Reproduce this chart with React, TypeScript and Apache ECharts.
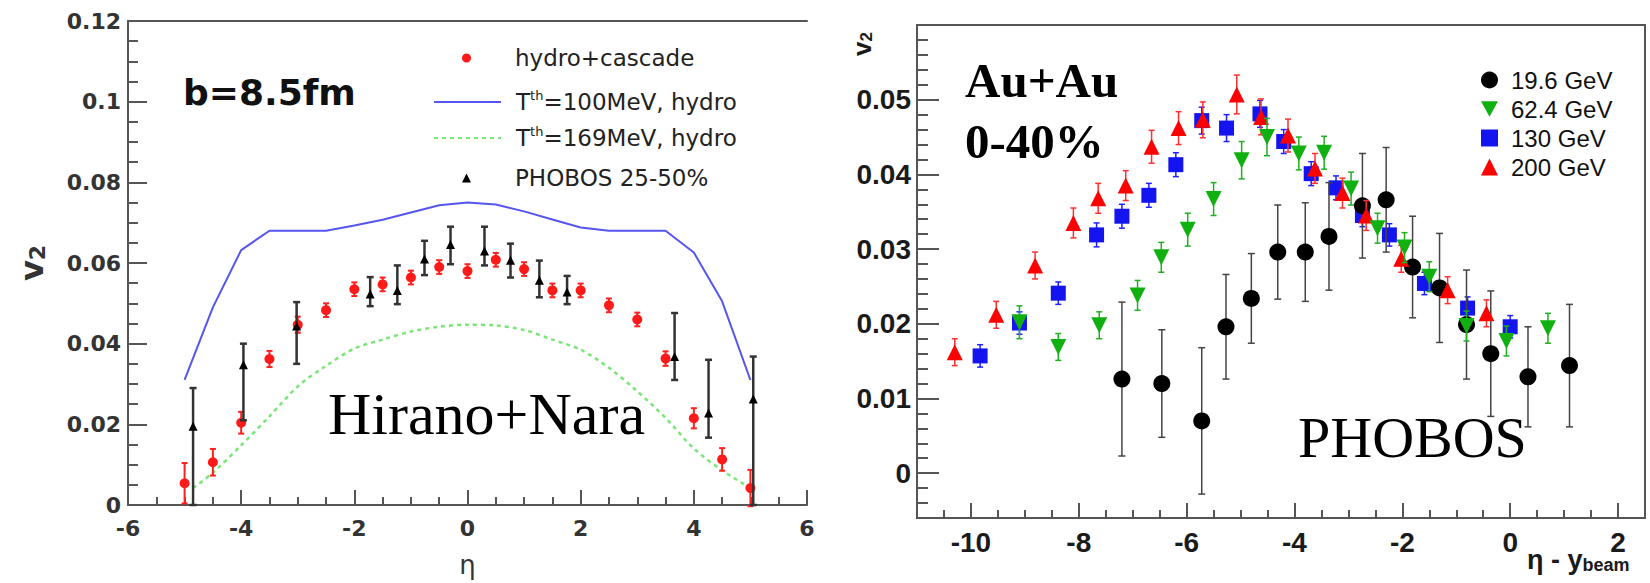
import React, { useEffect, useRef } from 'react';
import * as echarts from 'echarts';

// ---------- Left panel (Hirano+Nara) ----------
const hcEta = [-5, -4.5, -4, -3.5, -3, -2.5, -2, -1.5, -1, -0.5, 0, 0.5, 1, 1.5, 2, 2.5, 3, 3.5, 4, 4.5, 5];
const hcV = [0.0054, 0.0106, 0.0204, 0.0362, 0.0447, 0.0483, 0.0535, 0.0547, 0.0564, 0.059, 0.058, 0.0608, 0.0585, 0.0532, 0.0532, 0.0495, 0.046, 0.0363, 0.0215, 0.0113, 0.0042];
const hcErr = [0.005, 0.0033, 0.0027, 0.002, 0.002, 0.0017, 0.0017, 0.0017, 0.0017, 0.0017, 0.0017, 0.0017, 0.0017, 0.0017, 0.0017, 0.0017, 0.0017, 0.0018, 0.0025, 0.0028, 0.0045];

const phEta = [-4.85, -3.96, -3.02, -1.72, -1.24, -0.76, -0.3, 0.3, 0.76, 1.27, 1.76, 3.66, 4.26, 5.05];
const phV = [0.0195, 0.0348, 0.0444, 0.0523, 0.0532, 0.061, 0.0646, 0.063, 0.0607, 0.0557, 0.0528, 0.0368, 0.0228, 0.0263];
const phLo = [0, 0.021, 0.035, 0.0493, 0.0498, 0.057, 0.0597, 0.0594, 0.0564, 0.0515, 0.0498, 0.031, 0.0167, 0];
const phHi = [0.029, 0.04, 0.0503, 0.0565, 0.0594, 0.0655, 0.069, 0.069, 0.0648, 0.0606, 0.0568, 0.0476, 0.036, 0.0368];

const t100Eta = [-5, -4.5, -4, -3.5, -3, -2.5, -2, -1.5, -1, -0.5, 0, 0.5, 1, 1.5, 2, 2.5, 3, 3.5, 4, 4.5, 5];
const t100V = [0.031, 0.049, 0.0632, 0.068, 0.068, 0.068, 0.0693, 0.0707, 0.0725, 0.0743, 0.075, 0.0745, 0.0728, 0.0708, 0.0688, 0.068, 0.068, 0.068, 0.0626, 0.0505, 0.031];

const t169Eta = [-4.85, -4.5, -4, -3.5, -3, -2.5, -2, -1.5, -1, -0.5, 0, 0.5, 1, 1.5, 2, 2.5, 3, 3.5, 4, 4.5, 5];
const t169V = [0.0042, 0.008, 0.0148, 0.022, 0.0294, 0.0345, 0.0388, 0.041, 0.043, 0.0442, 0.0447, 0.0445, 0.0434, 0.041, 0.0385, 0.034, 0.0282, 0.0216, 0.014, 0.0086, 0.0042];

const leftXTicks = [-6, 6, 2];
const leftYTicks = [0, 0.12, 0.02];

// ---------- Right panel (PHOBOS) ----------
const e19X = [-7.2, -6.46, -5.72, -5.27, -4.8, -4.31, -3.8, -3.36, -2.74, -2.3, -1.81, -1.31, -0.81, -0.36, 0.33, 1.1];
const e19V = [0.0126, 0.012, 0.007, 0.0196, 0.0234, 0.0296, 0.0296, 0.0317, 0.0358, 0.0366, 0.0276, 0.0248, 0.0199, 0.016, 0.0129, 0.0144];
const e19Err = [0.0103, 0.0072, 0.0098, 0.007, 0.006, 0.0063, 0.0066, 0.0072, 0.007, 0.007, 0.0068, 0.0073, 0.0073, 0.0084, 0.0067, 0.0082];

const e62X = [-9.1, -8.38, -7.62, -6.91, -6.47, -5.98, -5.5, -4.98, -4.51, -3.92, -3.45, -2.95, -2.46, -1.96, -1.5, -0.81, -0.07, 0.7];
const e62V = [0.0202, 0.0169, 0.0198, 0.0238, 0.0289, 0.0326, 0.0367, 0.0419, 0.045, 0.0428, 0.0429, 0.0381, 0.0328, 0.0302, 0.0263, 0.0197, 0.0177, 0.0194];
const e62Err = [0.0022, 0.0018, 0.0018, 0.002, 0.002, 0.0022, 0.0022, 0.0025, 0.0025, 0.0022, 0.0022, 0.0022, 0.002, 0.002, 0.002, 0.002, 0.002, 0.002];

const e130X = [-9.83, -9.1, -8.38, -7.67, -7.2, -6.7, -6.2, -5.72, -5.26, -4.64, -4.2, -3.69, -3.23, -2.74, -2.24, -1.59, -0.79, 0];
const e130V = [0.0157, 0.0201, 0.0241, 0.0319, 0.0344, 0.0372, 0.0413, 0.0472, 0.0462, 0.0481, 0.0444, 0.0401, 0.0382, 0.0345, 0.0319, 0.0254, 0.0221, 0.0196];
const e130Err = [0.0015, 0.0015, 0.0015, 0.0016, 0.0016, 0.0016, 0.0016, 0.0018, 0.0018, 0.0018, 0.0016, 0.0016, 0.0016, 0.0015, 0.0015, 0.0015, 0.0015, 0.0015];

const e200X = [-10.3, -9.53, -8.81, -8.1, -7.64, -7.13, -6.65, -6.15, -5.7, -5.07, -4.62, -4.12, -3.62, -3.11, -2.67, -2.02, -1.16, -0.44];
const e200V = [0.0162, 0.0212, 0.0278, 0.0335, 0.0368, 0.0385, 0.0437, 0.0462, 0.0473, 0.0507, 0.0477, 0.0452, 0.0408, 0.0375, 0.0345, 0.0287, 0.0245, 0.0214];
const e200Err = [0.0018, 0.0018, 0.0018, 0.002, 0.002, 0.002, 0.0022, 0.0022, 0.0024, 0.0026, 0.0024, 0.0022, 0.002, 0.002, 0.002, 0.0018, 0.0018, 0.0018];

const rightXRange = [-11, 2.5];
const rightYRange = [-0.006, 0.06];
const rightXMajor = [-10, -8, -6, -4, -2, 0, 2];
const rightYMajor = [0, 0.01, 0.02, 0.03, 0.04, 0.05];

const NAME_HC = 'hydro+cascade';
const NAME_T100 = 'Tth=100MeV, hydro';
const NAME_T169 = 'Tth=169MeV, hydro';
const NAME_PH = 'PHOBOS 25-50%';
const energies = ['19.6 GeV', '62.4 GeV', '130 GeV', '200 GeV'];

const DOWN_TRI = 'path://M0,0 L10,0 L5,9 Z';
const AX = '#555';

function zip(a: number[], b: number[]) {
  return a.map((x, i) => [x, b[i]]);
}

function errSeries(name: string, xs: number[], lo: number[], hi: number[], xi: number, yi: number, color: string, width: number, cap: number, z: number) {
  return {
    type: 'custom',
    name,
    xAxisIndex: xi,
    yAxisIndex: yi,
    z,
    silent: true,
    data: xs.map((x, i) => [x, lo[i], hi[i]]),
    encode: { x: 0, y: [1, 2] },
    renderItem: (params: any, api: any) => {
      const a = api.coord([api.value(0), api.value(1)]);
      const b = api.coord([api.value(0), api.value(2)]);
      const st = { stroke: color, lineWidth: width };
      return {
        type: 'group',
        children: [
          { type: 'line', shape: { x1: a[0], y1: a[1], x2: b[0], y2: b[1] }, style: st },
          { type: 'line', shape: { x1: a[0] - cap, y1: a[1], x2: a[0] + cap, y2: a[1] }, style: st },
          { type: 'line', shape: { x1: b[0] - cap, y1: b[1], x2: b[0] + cap, y2: b[1] }, style: st },
        ],
      };
    },
  };
}

const leftLabel = { fontFamily: 'DejaVu Sans', fontWeight: 'bold', fontSize: 22, color: '#333' };
const rightLabel = { fontFamily: 'Liberation Sans', fontWeight: 'bold', fontSize: 28, color: '#1a1a1a' };
const axLine = { show: true, onZero: false, lineStyle: { color: AX, width: 2 } };
const tickStyle = { color: AX, width: 2 };

const leftRich = {
  f: { fontFamily: 'DejaVu Sans', fontSize: 23, color: '#222', lineHeight: 26 },
  n: { fontFamily: 'DejaVu Sans', fontSize: 23, color: '#222', lineHeight: 26 },
  s: { fontFamily: 'DejaVu Sans', fontSize: 13, color: '#222', lineHeight: 26, verticalAlign: 'top', padding: [0, 0, 10, 0] },
};

function leftLegend(name: string, top: number, isLine: boolean) {
  const w = isLine ? 67 : 9;
  const left = isLine ? 428 : 457;
  const pad = 510 - (left + w + 5);
  return {
    orient: 'vertical', left, top, itemWidth: w, itemHeight: 9, selectedMode: false, symbolKeepAspect: true,
    data: [isLine ? { name, itemStyle: { color: 'rgba(0,0,0,0)', borderWidth: 0 } } : { name }],
    formatter: (n: string) => {
      if (n === NAME_T100) return '{f|T}{s|th}{n|=100MeV, hydro}';
      if (n === NAME_T169) return '{f|T}{s|th}{n|=169MeV, hydro}';
      return '{f|' + n + '}';
    },
    textStyle: {
      fontFamily: 'DejaVu Sans', fontSize: 23, color: '#222', lineHeight: 26,
      rich: { ...leftRich, f: { ...leftRich.f, padding: [0, 0, 0, pad] } },
    },
  };
}

function buildOption() {
  return {
    animation: false,
    backgroundColor: '#fff',
    grid: [
      { left: 128, top: 21, width: 679, height: 489 },
      { left: 917, top: 25, width: 728, height: 493, show: true, borderColor: AX, borderWidth: 2 },
    ],
    xAxis: [
      {
        gridIndex: 0, type: 'value', position: 'bottom', min: leftXTicks[0], max: leftXTicks[1], interval: leftXTicks[2],
        axisLine: axLine,
        axisTick: { show: true, inside: true, length: 15, lineStyle: tickStyle },
        minorTick: { show: true, splitNumber: 4, length: 8, lineStyle: tickStyle },
        splitLine: { show: false },
        axisLabel: { ...leftLabel, margin: 12 },
        name: 'η', nameLocation: 'middle', nameGap: 47,
        nameTextStyle: { fontFamily: 'DejaVu Sans', fontSize: 26, color: '#333' },
      },
      {
        gridIndex: 0, type: 'value', position: 'top', min: leftXTicks[0], max: leftXTicks[1],
        axisLine: axLine, axisTick: { show: false }, axisLabel: { show: false }, splitLine: { show: false },
      },
      {
        gridIndex: 1, type: 'value', position: 'bottom', min: rightXRange[0], max: rightXRange[1], interval: 0.5,
        axisLine: axLine,
        axisTick: { show: true, inside: true, length: 8, lineStyle: tickStyle },
        axisLabel: { show: false }, splitLine: { show: false },
      },
      {
        gridIndex: 1, type: 'value', position: 'bottom', offset: 0, min: rightXRange[0], max: rightXRange[1], interval: 0.5,
        axisLine: { show: false, onZero: false },
        axisTick: { show: true, inside: true, length: 15, lineStyle: tickStyle, customValues: rightXMajor },
        axisLabel: { ...rightLabel, margin: 10, customValues: rightXMajor },
        splitLine: { show: false },
      },
    ],
    yAxis: [
      {
        gridIndex: 0, type: 'value', min: leftYTicks[0], max: leftYTicks[1], interval: leftYTicks[2],
        axisLine: axLine,
        axisTick: { show: true, inside: true, length: 19, lineStyle: tickStyle },
        minorTick: { show: true, splitNumber: 4, length: 10, lineStyle: tickStyle },
        splitLine: { show: false },
        axisLabel: { ...leftLabel, margin: 7 },
        name: '{v|v}{s|2}', nameLocation: 'middle', nameGap: 80, nameRotate: 90,
        nameTextStyle: {
          rich: {
            v: { fontFamily: 'DejaVu Sans', fontWeight: 'bold', fontSize: 32, color: '#333' },
            s: { fontFamily: 'DejaVu Sans', fontWeight: 'bold', fontSize: 22, color: '#333', verticalAlign: 'bottom' },
          },
        },
      },
      {
        gridIndex: 1, type: 'value', position: 'left', min: rightYRange[0], max: rightYRange[1], interval: 0.002,
        axisLine: axLine,
        axisTick: { show: true, inside: true, length: 11, lineStyle: tickStyle },
        axisLabel: { show: false }, splitLine: { show: false },
      },
      {
        gridIndex: 1, type: 'value', position: 'left', offset: 0, min: rightYRange[0], max: rightYRange[1], interval: 0.002,
        axisLine: { show: false, onZero: false },
        axisTick: { show: true, inside: true, length: 22, lineStyle: tickStyle, customValues: rightYMajor },
        axisLabel: { ...rightLabel, margin: 6, customValues: rightYMajor },
        splitLine: { show: false },
      },
    ],
    legend: [
      leftLegend(NAME_HC, 40, false),
      leftLegend(NAME_T100, 84, true),
      leftLegend(NAME_T169, 120, true),
      leftLegend(NAME_PH, 160, false),
      {
        orient: 'vertical', left: 1476, top: 63, itemWidth: 17, itemHeight: 17, itemGap: 5, selectedMode: false, symbolKeepAspect: true,
        data: energies,
        formatter: (n: string) => '{f|' + n + '}',
        textStyle: {
          fontFamily: 'Liberation Sans', fontSize: 24, color: '#111', lineHeight: 24,
          rich: { f: { fontFamily: 'Liberation Sans', fontSize: 24, color: '#111', lineHeight: 24, padding: [0, 0, 0, 8] } },
        },
      },
    ],
    graphic: [
      { type: 'text', x: 183, y: 92, style: { text: 'b=8.5fm', font: 'bold 36px "DejaVu Sans"', fill: '#111', verticalAlign: 'middle' } },
      { type: 'text', x: 328, y: 414, style: { text: 'Hirano+Nara', font: '60px "Liberation Serif"', fill: '#000', verticalAlign: 'middle' } },
      { type: 'text', x: 965, y: 80, style: { text: 'Au+Au', font: 'bold 49px "Liberation Serif"', fill: '#000', verticalAlign: 'middle' } },
      { type: 'text', x: 965, y: 141, style: { text: '0-40%', font: 'bold 49px "Liberation Serif"', fill: '#000', verticalAlign: 'middle' } },
      { type: 'text', x: 1298, y: 437, style: { text: 'PHOBOS', font: '58px "Liberation Serif"', fill: '#000', verticalAlign: 'middle' } },
      {
        type: 'text', x: 862, y: 44, rotation: Math.PI / 2,
        style: {
          text: '{v|v}{s|2}', align: 'center', verticalAlign: 'middle',
          rich: {
            v: { fontFamily: 'Liberation Sans', fontWeight: 'bold', fontSize: 26, fill: '#1a1a1a' },
            s: { fontFamily: 'Liberation Sans', fontWeight: 'bold', fontSize: 17, fill: '#1a1a1a', verticalAlign: 'bottom' },
          },
        },
      },
      {
        type: 'text', x: 1527, y: 560,
        style: {
          text: '{a|η - y}{b|beam}', verticalAlign: 'middle',
          rich: {
            a: { fontFamily: 'Liberation Sans', fontWeight: 'bold', fontSize: 27, fill: '#1a1a1a' },
            b: { fontFamily: 'Liberation Sans', fontWeight: 'bold', fontSize: 18, fill: '#1a1a1a', verticalAlign: 'bottom', padding: [10, 0, 0, 0] },
          },
        },
      },
    ],
    series: [
      // left panel
      {
        type: 'line', name: NAME_T100, xAxisIndex: 0, yAxisIndex: 0, data: zip(t100Eta, t100V),
        symbol: 'none', lineStyle: { color: '#5555f0', width: 2 }, itemStyle: { color: '#5555f0' }, z: 2,
      },
      {
        type: 'line', name: NAME_T169, xAxisIndex: 0, yAxisIndex: 0, data: zip(t169Eta, t169V), smooth: 0.3,
        symbol: 'none', lineStyle: { color: '#7ae67a', width: 2.5, type: [4, 4] }, itemStyle: { color: '#7ae67a' }, z: 2,
      },
      errSeries('err-hc', hcEta, hcEta.map((_, i) => hcV[i] - hcErr[i]), hcEta.map((_, i) => hcV[i] + hcErr[i]), 0, 0, '#ff2020', 2, 3, 3),
      {
        type: 'scatter', name: NAME_HC, xAxisIndex: 0, yAxisIndex: 0, data: zip(hcEta, hcV),
        symbol: 'circle', symbolSize: 10, itemStyle: { color: '#ff1a1a', opacity: 1 }, z: 4,
      },
      errSeries('err-ph', phEta, phLo, phHi, 0, 0, '#333', 2.5, 3.5, 5),
      {
        type: 'scatter', name: NAME_PH, xAxisIndex: 0, yAxisIndex: 0, data: zip(phEta, phV),
        symbol: 'triangle', symbolSize: 9, symbolKeepAspect: true, itemStyle: { color: '#000', opacity: 1 }, z: 6,
      },
      // right panel
      errSeries('err-130', e130X, e130X.map((_, i) => e130V[i] - e130Err[i]), e130X.map((_, i) => e130V[i] + e130Err[i]), 2, 1, '#2020ff', 1.5, 3, 3),
      {
        type: 'scatter', name: '130 GeV', xAxisIndex: 2, yAxisIndex: 1, data: zip(e130X, e130V),
        symbol: 'rect', symbolSize: 15, itemStyle: { color: '#1414f0', opacity: 1 }, z: 4,
      },
      errSeries('err-19', e19X, e19X.map((_, i) => e19V[i] - e19Err[i]), e19X.map((_, i) => e19V[i] + e19Err[i]), 2, 1, '#444', 1.5, 3.5, 5),
      {
        type: 'scatter', name: '19.6 GeV', xAxisIndex: 2, yAxisIndex: 1, data: zip(e19X, e19V),
        symbol: 'circle', symbolSize: 17, itemStyle: { color: '#000', opacity: 1 }, z: 6,
      },
      errSeries('err-200', e200X, e200X.map((_, i) => e200V[i] - e200Err[i]), e200X.map((_, i) => e200V[i] + e200Err[i]), 2, 1, '#ff3030', 1.5, 3, 7),
      {
        type: 'scatter', name: '200 GeV', xAxisIndex: 2, yAxisIndex: 1, data: zip(e200X, e200V),
        symbol: 'triangle', symbolSize: 16, itemStyle: { color: '#ff0000', opacity: 1 }, z: 8,
      },
      errSeries('err-62', e62X, e62X.map((_, i) => e62V[i] - e62Err[i]), e62X.map((_, i) => e62V[i] + e62Err[i]), 2, 1, '#20b020', 1.5, 3, 9),
      {
        type: 'scatter', name: '62.4 GeV', xAxisIndex: 2, yAxisIndex: 1, data: zip(e62X, e62V),
        symbol: DOWN_TRI, symbolSize: 16, itemStyle: { color: '#10b010', opacity: 1 }, z: 10,
      },
    ],
  };
}

export default function App() {
  const ref = useRef<HTMLDivElement>(null);
  useEffect(() => {
    if (!ref.current) return;
    const chart = echarts.init(ref.current, null, { renderer: 'svg' });
    chart.setOption(buildOption() as any);
    return () => chart.dispose();
  }, []);
  return <div ref={ref} style={{ position: 'absolute', left: 0, top: 0, width: 1650, height: 583 }} />;
}
